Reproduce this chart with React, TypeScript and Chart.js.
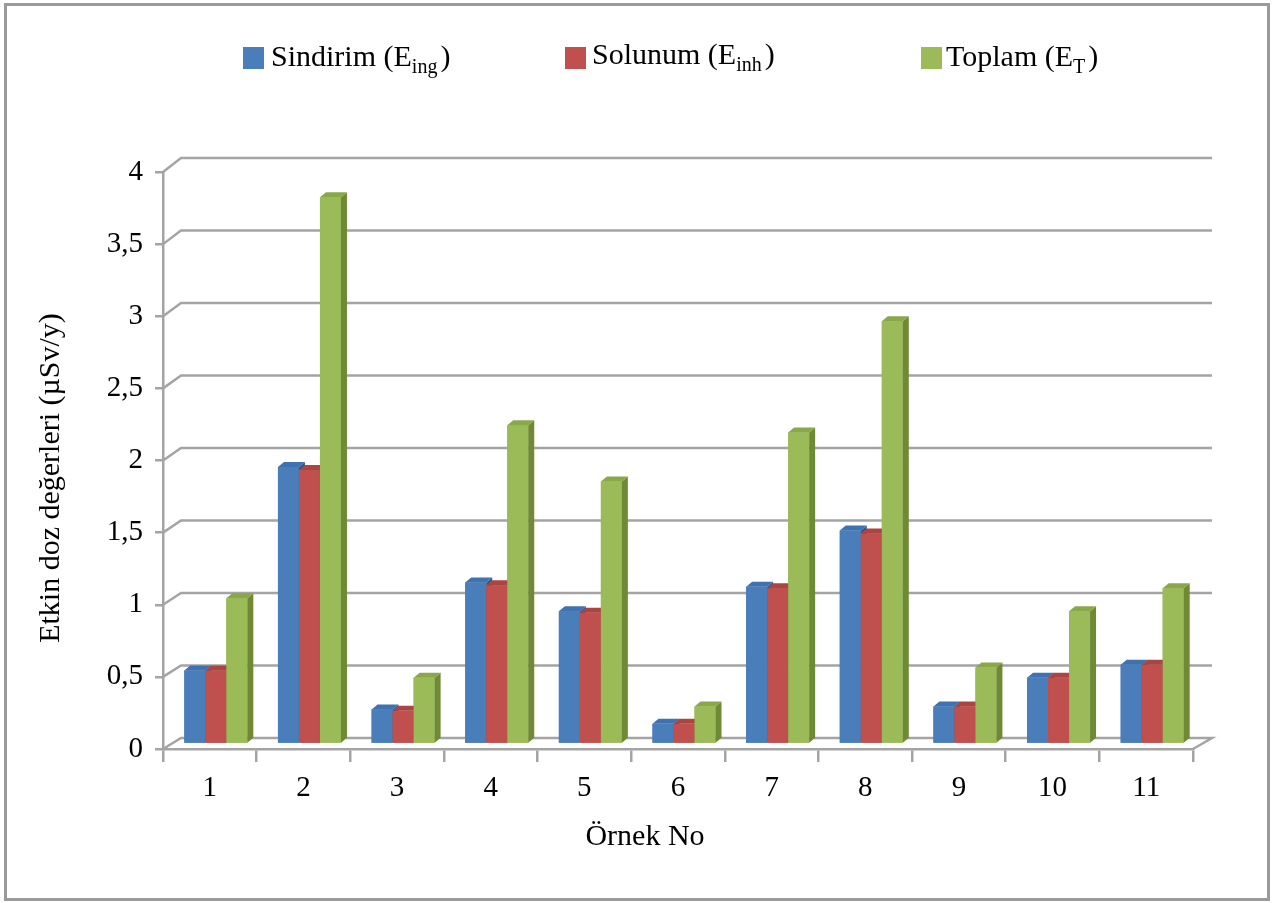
import React, { useEffect, useRef } from "react";
import { Chart, registerables } from "chart.js";

Chart.register(...registerables);

const categories = ["1", "2", "3", "4", "5", "6", "7", "8", "9", "10", "11"];
const sindirim = [0.51, 1.92, 0.24, 1.12, 0.92, 0.14, 1.09, 1.48, 0.26, 0.46, 0.55];
const solunum = [0.51, 1.9, 0.23, 1.1, 0.91, 0.14, 1.08, 1.46, 0.26, 0.46, 0.55];
const toplam = [1.01, 3.79, 0.46, 2.21, 1.82, 0.26, 2.16, 2.93, 0.53, 0.92, 1.08];
const yTicks = [0, 0.5, 1, 1.5, 2, 2.5, 3, 3.5, 4];

const legendItems = [
  { main: "Sindirim (E", sub: "ing", color: "#4a7ebb", box: 243, text: 271, base: 66 },
  { main: "Solunum (E", sub: "inh", color: "#c0504d", box: 565, text: 592, base: 64 },
  { main: "Toplam (E", sub: "T", color: "#9bbb59", box: 921, text: 946, base: 66 },
];

const FONT = "'Liberation Serif', 'Times New Roman', serif";
const faces = [
  { front: "#4a7ebb", side: "#2f5a8c", top: "#3f72b0" },
  { front: "#c0504d", side: "#8b3431", top: "#ab4542" },
  { front: "#9bbb59", side: "#6e8a34", top: "#88a849" },
];
const DX = 6;
const DY = 5;
const SHIFT_X = 6;
const SHIFT_Y = -5;
const GRID = "#a4a4a4";

const decor = {
  id: "decor3d",
  beforeDatasetsDraw(chart: any) {
    const { ctx, chartArea, scales } = chart;
    const y = scales.y;
    const left = chartArea.left;
    const right = chartArea.right;
    const backRight = right + 19;
    ctx.save();
    ctx.strokeStyle = GRID;
    ctx.lineWidth = 2.5;
    const y0 = y.getPixelForValue(0);
    ctx.beginPath();
    ctx.moveTo(left, y0);
    ctx.lineTo(left + 18, y0 - 11);
    ctx.lineTo(backRight, y0 - 11);
    ctx.lineTo(right, y0);
    ctx.stroke();
    yTicks.forEach((v) => {
      if (v === 0) return;
      const yf = y.getPixelForValue(v);
      const yb = yf - 11 - 0.75 * v;
      ctx.beginPath();
      ctx.moveTo(left, yf);
      ctx.lineTo(left + 18, yb);
      ctx.lineTo(backRight, yb);
      ctx.stroke();
    });
    ctx.restore();
    ctx.save();
    ctx.translate(SHIFT_X, SHIFT_Y);
  },
  afterDatasetsDraw(chart: any) {
    const { ctx } = chart;
    const n = categories.length;
    for (let i = 0; i < n; i++) {
      for (let d = 0; d < 3; d++) {
        const el = chart.getDatasetMeta(d).data[i];
        if (!el) continue;
        const p = el.getProps(["x", "y", "width", "base"], true);
        const l = p.x - p.width / 2;
        const r = p.x + p.width / 2;
        const t = p.y;
        const b = p.base;
        const f = faces[d];
        ctx.fillStyle = f.front;
        ctx.fillRect(l, t, r - l, b - t);
        ctx.fillStyle = f.side;
        ctx.beginPath();
        ctx.moveTo(r, t);
        ctx.lineTo(r + DX, t - DY);
        ctx.lineTo(r + DX, b - DY);
        ctx.lineTo(r, b);
        ctx.closePath();
        ctx.fill();
        ctx.fillStyle = f.top;
        ctx.beginPath();
        ctx.moveTo(l, t);
        ctx.lineTo(r, t);
        ctx.lineTo(r + DX, t - DY);
        ctx.lineTo(l + DX, t - DY);
        ctx.closePath();
        ctx.fill();
      }
    }
    ctx.restore();
  },
  afterDraw(chart: any) {
    const { ctx } = chart;
    ctx.save();
    ctx.strokeStyle = "#9a9a9a";
    ctx.lineWidth = 3;
    ctx.strokeRect(5.5, 4.5, 1263, 895);
    legendItems.forEach((it) => {
      ctx.fillStyle = it.color;
      ctx.fillRect(it.box, 47, 21, 22);
      ctx.fillStyle = "#000";
      ctx.textAlign = "left";
      ctx.textBaseline = "alphabetic";
      ctx.font = `30px ${FONT}`;
      ctx.fillText(it.main, it.text, it.base);
      let x = it.text + ctx.measureText(it.main).width;
      ctx.font = `20px ${FONT}`;
      ctx.fillText(it.sub, x, it.base + 7);
      x += ctx.measureText(it.sub).width + 3;
      ctx.font = `30px ${FONT}`;
      ctx.fillText(")", x, it.base);
    });
    ctx.fillStyle = "#000";
    ctx.font = `30px ${FONT}`;
    ctx.textAlign = "center";
    ctx.textBaseline = "middle";
    ctx.fillText("Örnek No", 645, 837);
    ctx.translate(51, 478);
    ctx.rotate(-Math.PI / 2);
    ctx.fillText("Etkin doz değerleri (µSv/y)", 0, 0);
    ctx.restore();
  },
};

export default function App() {
  const ref = useRef<HTMLCanvasElement | null>(null);
  useEffect(() => {
    if (!ref.current) return;
    const chart = new Chart(ref.current, {
      type: "bar",
      data: {
        labels: categories,
        datasets: [
          { label: "Sindirim (Eing)", data: sindirim, backgroundColor: faces[0].front },
          { label: "Solunum (Einh)", data: solunum, backgroundColor: faces[1].front },
          { label: "Toplam (ET)", data: toplam, backgroundColor: faces[2].front },
        ],
      },
      options: {
        responsive: false,
        animation: false,
        layout: { padding: { left: 10, right: 95, top: 172, bottom: 94 } },
        datasets: { bar: { categoryPercentage: 0.673, barPercentage: 1 } },
        plugins: { legend: { display: false }, tooltip: { enabled: false }, title: { display: false } },
        scales: {
          x: {
            afterFit: (s: any) => {
              s.height = 60;
            },
            grid: { display: true, drawOnChartArea: false, drawTicks: true, tickLength: 13, color: GRID, lineWidth: 2.5, offset: true },
            border: { display: true, color: GRID, width: 2.5 },
            ticks: { color: "#000", font: { family: FONT, size: 29 }, padding: 9, maxRotation: 0 },
          },
          y: {
            min: 0,
            max: 4,
            afterFit: (s: any) => {
              s.width = 153;
            },
            afterBuildTicks: (s: any) => {
              s.ticks = yTicks.map((v) => ({ value: v }));
            },
            grid: { display: true, drawOnChartArea: false, drawTicks: true, tickLength: 8, color: GRID, lineWidth: 2.5 },
            border: { display: true, color: GRID, width: 2.5 },
            ticks: {
              color: "#000",
              font: { family: FONT, size: 29 },
              padding: 12,
              callback: (v: any) => String(v).replace(".", ","),
            },
          },
        },
      },
      plugins: [decor],
    });
    return () => chart.destroy();
  }, []);
  return (
    <div style={{ position: "fixed", left: 0, top: 0, width: 1288, height: 903, background: "#fff" }}>
      <canvas ref={ref} width={1288} height={903} />
    </div>
  );
}
